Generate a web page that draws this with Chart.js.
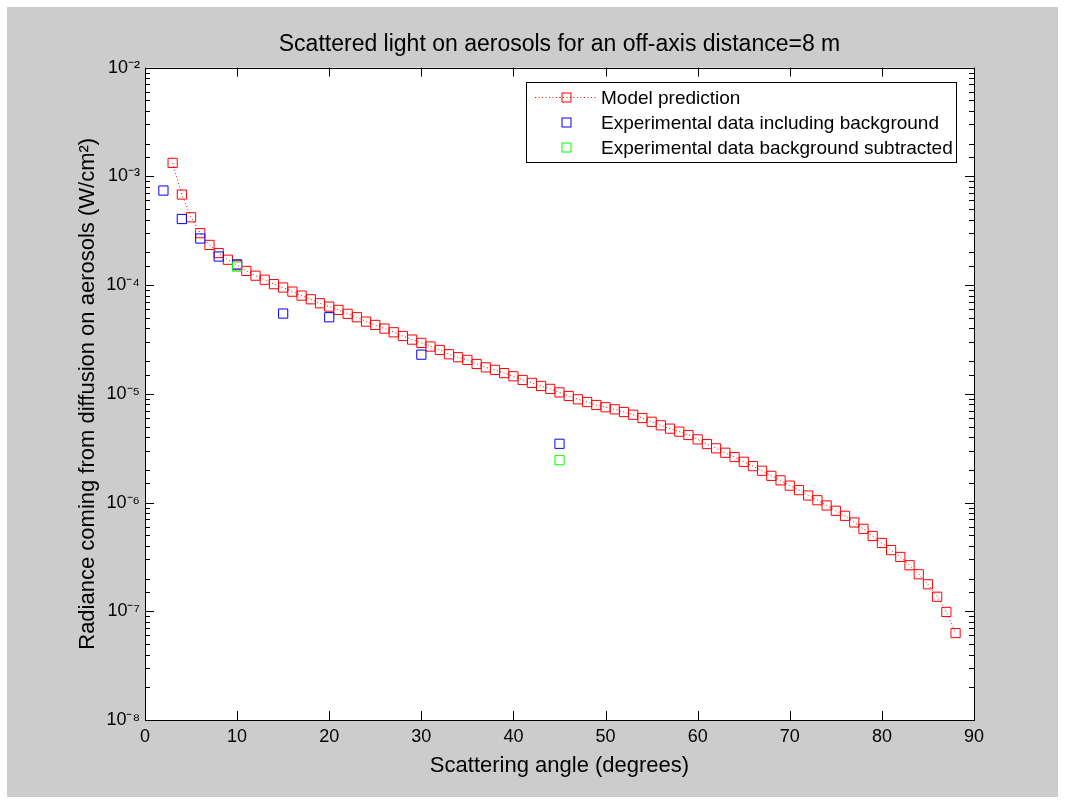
<!DOCTYPE html>
<html>
<head>
<meta charset="utf-8">
<title>Scattered light on aerosols</title>
<script src="https://cdn.jsdelivr.net/npm/chart.js@4.4.0/dist/chart.umd.min.js"></script>
<style>
	html, body { margin: 0; padding: 0; background: #ffffff; }
	#frame { position: absolute; left: 7px; top: 7px; width: 1051px; height: 790px; background: #cccccc; }
	#wrap { position: absolute; left: 0; top: 0; width: 1065px; height: 804px; }
</style>
</head>
<body>
<div id="frame"></div>
<div id="wrap"><canvas id="mycanvas" width="1065" height="804"></canvas></div>
<script>
// model prediction, one point per degree
var modelAngles = [3, 4, 5, 6, 7, 8, 9, 10, 11, 12, 13, 14, 15, 16, 17, 18, 19, 20,
	21, 22, 23, 24, 25, 26, 27, 28, 29, 30, 31, 32, 33, 34, 35, 36, 37, 38, 39, 40,
	41, 42, 43, 44, 45, 46, 47, 48, 49, 50, 51, 52, 53, 54, 55, 56, 57, 58, 59, 60,
	61, 62, 63, 64, 65, 66, 67, 68, 69, 70, 71, 72, 73, 74, 75, 76, 77, 78, 79, 80,
	81, 82, 83, 84, 85, 86, 87, 88];
var modelValues = [1.33e-3, 6.8e-4, 4.2e-4, 3.0e-4, 2.34e-4, 1.97e-4, 1.71e-4, 1.52e-4,
	1.35e-4, 1.22e-4, 1.12e-4, 1.02e-4, 9.5e-5, 8.7e-5, 8.0e-5, 7.4e-5, 6.8e-5, 6.34e-5,
	5.91e-5, 5.44e-5, 5.06e-5, 4.61e-5, 4.30e-5, 3.98e-5, 3.68e-5, 3.40e-5, 3.15e-5, 2.94e-5,
	2.72e-5, 2.53e-5, 2.31e-5, 2.17e-5, 2.05e-5, 1.88e-5, 1.75e-5, 1.66e-5, 1.55e-5, 1.45e-5,
	1.34e-5, 1.26e-5, 1.18e-5, 1.11e-5, 1.03e-5, 9.55e-6, 8.9e-6, 8.4e-6, 7.89e-6, 7.52e-6,
	7.2e-6, 6.8e-6, 6.42e-6, 5.99e-6, 5.53e-6, 5.13e-6, 4.78e-6, 4.49e-6, 4.18e-6, 3.81e-6,
	3.45e-6, 3.15e-6, 2.87e-6, 2.62e-6, 2.37e-6, 2.16e-6, 1.96e-6, 1.76e-6, 1.60e-6, 1.43e-6,
	1.30e-6, 1.16e-6, 1.05e-6, 9.4e-7, 8.4e-7, 7.55e-7, 6.56e-7, 5.73e-7, 4.93e-7, 4.25e-7,
	3.65e-7, 3.16e-7, 2.65e-7, 2.19e-7, 1.77e-7, 1.36e-7, 9.86e-8, 6.3e-8];

// experimental data including background
var bgAngles = [2, 4, 6, 8, 10, 15, 20, 30, 45];
var bgValues = [7.4e-4, 4.05e-4, 2.68e-4, 1.83e-4, 1.55e-4, 5.47e-5, 5.06e-5, 2.29e-5, 3.47e-6];

// experimental data background subtracted
var subAngles = [10, 45];
var subValues = [1.48e-4, 2.45e-6];

var xTickValues = [0, 10, 20, 30, 40, 50, 60, 70, 80, 90];
var yMin = 1e-8;
var yMax = 1e-2;

var seriesLabels = ['Model prediction', 'Experimental data including background', 'Experimental data background subtracted'];

function toPoints(xs, ys) {
	var pts = [];
	for (var i = 0; i < xs.length; i++) {
		pts.push({x: xs[i], y: ys[i]});
	}
	return pts;
}

var supDigits = {'-': '\u207B', '0': '\u2070', '1': '\u00B9', '2': '\u00B2', '3': '\u00B3', '4': '\u2074',
	'5': '\u2075', '6': '\u2076', '7': '\u2077', '8': '\u2078', '9': '\u2079'};

function isDecade(v) {
	var e = Math.log10(v);
	return Math.abs(e - Math.round(e)) < 1e-9;
}

function decadeLabel(v) {
	var e = String(Math.round(Math.log10(v)));
	var s = '';
	for (var i = 0; i < e.length; i++) s += supDigits[e[i]];
	return '10' + s;
}

// white axes background
var axesBackground = {
	id: 'axesBackground',
	beforeDraw: function(chart) {
		var a = chart.chartArea, ctx = chart.ctx;
		ctx.save();
		ctx.fillStyle = '#ffffff';
		ctx.fillRect(a.left, a.top, a.right - a.left, a.bottom - a.top);
		ctx.restore();
	}
};

// box around the axes with inward ticks on all four sides
var axesBox = {
	id: 'axesBox',
	afterDraw: function(chart) {
		var a = chart.chartArea, ctx = chart.ctx;
		var xs = chart.scales.x, ys = chart.scales.y;
		ctx.save();
		ctx.strokeStyle = '#000000';
		ctx.lineWidth = 1;
		ctx.beginPath();
		xs.ticks.forEach(function(t) {
			var px = Math.round(xs.getPixelForValue(t.value)) + 0.5;
			ctx.moveTo(px, a.bottom); ctx.lineTo(px, a.bottom - 9);
			ctx.moveTo(px, a.top); ctx.lineTo(px, a.top + 9);
		});
		ys.ticks.forEach(function(t) {
			var py = Math.round(ys.getPixelForValue(t.value)) + 0.5;
			var len = isDecade(t.value) ? 9 : 5;
			ctx.moveTo(a.left, py); ctx.lineTo(a.left + len, py);
			ctx.moveTo(a.right, py); ctx.lineTo(a.right - len, py);
		});
		ctx.stroke();
		ctx.strokeRect(Math.round(a.left) + 0.5, Math.round(a.top) + 0.5,
			Math.round(a.right - a.left), Math.round(a.bottom - a.top));
		ctx.restore();
	}
};

// matlab style legend box in the top right corner
var boxLegend = {
	id: 'boxLegend',
	afterDraw: function(chart) {
		var a = chart.chartArea, ctx = chart.ctx;
		var w = 430, h = 80;
		var left = Math.round(a.right - 18 - w), top = Math.round(a.top + 14);
		ctx.save();
		ctx.fillStyle = '#ffffff';
		ctx.fillRect(left, top, w, h);
		ctx.strokeStyle = '#000000';
		ctx.lineWidth = 1;
		ctx.strokeRect(left + 0.5, top + 0.5, w, h);
		ctx.font = '19px "Liberation Sans", Arial, sans-serif';
		ctx.textBaseline = 'middle';
		chart.data.datasets.forEach(function(ds, i) {
			var cy = top + 15.5 + i * 25;
			var cx = left + 40.5;
			if (ds.showLine) {
				ctx.strokeStyle = ds.borderColor;
				ctx.setLineDash(ds.borderDash || []);
				ctx.beginPath();
				ctx.moveTo(left + 9, cy); ctx.lineTo(left + 70, cy);
				ctx.stroke();
				ctx.setLineDash([]);
			}
			ctx.strokeStyle = ds.pointBorderColor;
			ctx.strokeRect(cx - 4.5, cy - 4.5, 9, 9);
			ctx.fillStyle = '#000000';
			ctx.fillText(ds.label, left + 75, cy + 1);
		});
		ctx.restore();
	}
};

Chart.defaults.font.family = '"Liberation Sans", Arial, sans-serif';
Chart.defaults.color = '#000000';

var ctx = document.getElementById('mycanvas');
var chart = new Chart(ctx, {
	type: 'scatter',
	data: {
		datasets: [
			{
				label: seriesLabels[0],
				data: toPoints(modelAngles, modelValues),
				showLine: true,
				borderColor: '#ff0000',
				borderWidth: 1,
				borderDash: [1, 2.5],
				pointStyle: 'rect',
				pointRadius: 6.5,
				pointBorderWidth: 1,
				pointBorderColor: '#ff0000',
				pointBackgroundColor: 'rgba(0,0,0,0)',
				order: 3
			},
			{
				label: seriesLabels[1],
				data: toPoints(bgAngles, bgValues),
				showLine: false,
				pointStyle: 'rect',
				pointRadius: 6.5,
				pointBorderWidth: 1,
				pointBorderColor: '#0000ff',
				pointBackgroundColor: 'rgba(0,0,0,0)',
				order: 2
			},
			{
				label: seriesLabels[2],
				data: toPoints(subAngles, subValues),
				showLine: false,
				pointStyle: 'rect',
				pointRadius: 6.5,
				pointBorderWidth: 1,
				pointBorderColor: '#00ff00',
				pointBackgroundColor: 'rgba(0,0,0,0)',
				order: 1
			}
		]
	},
	options: {
		responsive: false,
		animation: false,
		layout: { padding: { left: 0, right: 91, top: 0, bottom: 0 } },
		plugins: {
			legend: { display: false },
			tooltip: { enabled: false },
			title: {
				display: true,
				fullSize: false,
				text: 'Scattered light on aerosols for an off-axis distance=8 m',
				font: { size: 23, weight: 'normal' },
				color: '#000000',
				padding: { top: 31, bottom: 9 }
			}
		},
		scales: {
			x: {
				type: 'linear',
				min: 0,
				max: 90,
				afterBuildTicks: function(scale) {
					scale.ticks = xTickValues.map(function(v) { return {value: v}; });
				},
				afterFit: function(scale) { scale.height = 84; },
				grid: { display: false, drawTicks: false },
				border: { display: false },
				ticks: { padding: 6, font: { size: 18 }, color: '#000000', maxRotation: 0 },
				title: {
					display: true,
					text: 'Scattering angle (degrees)',
					font: { size: 22 },
					color: '#000000',
					padding: { top: 0, bottom: 25 }
				}
			},
			y: {
				type: 'logarithmic',
				min: yMin,
				max: yMax,
				afterFit: function(scale) { scale.width = 145; },
				grid: { display: false, drawTicks: false },
				border: { display: false },
				ticks: {
					autoSkip: false,
					padding: 5,
					font: { size: 18 },
					color: '#000000',
					callback: function(value) {
						return isDecade(value) ? decadeLabel(value) : '';
					}
				},
				title: {
					display: true,
					text: 'Radiance coming from diffusion on aerosols (W/cm\u00B2)',
					font: { size: 22 },
					color: '#000000',
					padding: { top: 75, bottom: 0 }
				}
			}
		}
	},
	plugins: [axesBackground, axesBox, boxLegend]
});
</script>
</body>
</html>
